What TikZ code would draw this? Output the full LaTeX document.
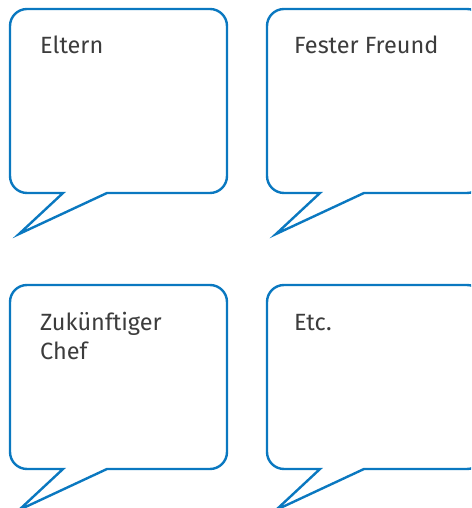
\documentclass[tikz,border=0pt]{standalone}
\usepackage{fontspec}
\setmainfont{Fira Sans}
\definecolor{bubbleblue}{HTML}{0A78C0}
\definecolor{txtgray}{HTML}{3C3C3C}
\tikzset{
  bubbleline/.style={draw=bubbleblue, line width=2.4pt, fill=white},
  bubbletext/.style={anchor=base west, inner sep=0pt, text=txtgray,
    font=\fontsize{23.5}{29}\selectfont, align=left},
  bubble/.pic={
    \path[bubbleline] (17,0) -- (200,0) arc[start angle=90,end angle=0,radius=17]
      -- (217,-167) arc[start angle=0,end angle=-90,radius=17]
      -- (97,-184) -- (9,-225) -- (53,-184)
      -- (17,-184) arc[start angle=270,end angle=180,radius=17]
      -- (0,-17) arc[start angle=180,end angle=90,radius=17] -- cycle;
  }
}
\begin{document}
\begin{tikzpicture}[x=1pt,y=1pt]
\useasboundingbox (0,0) rectangle (471,508);
\clip (0,0) rectangle (471,508);
\pic at (10,499) {bubble};
\pic at (267,499) {bubble};
\pic at (10,223) {bubble};
\pic at (267,223) {bubble};
\node[bubbletext] (t1) at (40,454) {Eltern};
\node[bubbletext] (t2) at (294,454) {Fester Freund};
\node[bubbletext] (t3) at (40,148) {Zukünftiger\\Chef};
\node[bubbletext] (t4) at (294,177) {Etc.};
\end{tikzpicture}
\end{document}
